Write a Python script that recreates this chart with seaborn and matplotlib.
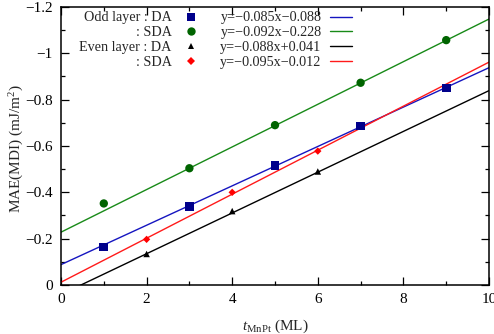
import numpy as np
import pandas as pd
import seaborn as sns
import matplotlib
matplotlib.use("Agg")
import matplotlib.pyplot as plt
from matplotlib.lines import Line2D
from matplotlib.ticker import MultipleLocator

# ---- data ----
odd_x = [1, 3, 5, 7, 9]
odd_da = [-0.164, -0.340, -0.516, -0.686, -0.850]
odd_sda = [-0.352, -0.504, -0.690, -0.873, -1.057]
even_x = [2, 4, 6]
even_da = [-0.134, -0.319, -0.490]
even_sda = [-0.197, -0.400, -0.578]

fit_slopes = [-0.085, -0.092, -0.088, -0.095]
fit_intercepts = [-0.088, -0.228, 0.041, -0.012]
fit_labels = ["y=\u22120.085x\u22120.088", "y=\u22120.092x\u22120.228",
              "y=\u22120.088x+0.041", "y=\u22120.095x\u22120.012"]
series_labels = ["Odd layer : DA", ": SDA", "Even layer : DA", ": SDA"]
fit_x = [0, 10]
x_ticks = [0, 2, 4, 6, 8, 10]
y_ticks = [0, -0.2, -0.4, -0.6, -0.8, -1.0, -1.2]
y_ticklabels = ["0", "\u22120.2", "\u22120.4", "\u22120.6", "\u22120.8", "\u22121", "\u22121.2"]

sns.set_theme(style="ticks")
plt.rcParams["font.family"] = ["Liberation Serif", "DejaVu Serif"]
plt.rcParams["mathtext.fontset"] = "custom"
plt.rcParams["mathtext.rm"] = "Liberation Serif"
plt.rcParams["mathtext.it"] = "Liberation Serif:italic"
plt.rcParams["axes.unicode_minus"] = True

FS = 11
LFS = 10.2

fig = plt.figure(figsize=(4.94, 3.34), dpi=100)
ax = fig.add_axes([61 / 494, 1 - 285 / 334, 428 / 494, 278 / 334])

marker_colors = ["#00008b", "#006400", "#000000", "#ff0000"]
line_colors = ["#1515c0", "#188a18", "#000000", "#ff1a1a"]

# fit lines
for k in range(4):
    df = pd.DataFrame({"x": fit_x,
                       "y": [fit_slopes[k] * v + fit_intercepts[k] for v in fit_x]})
    sns.lineplot(data=df, x="x", y="y", color=line_colors[k], lw=1.0, ax=ax,
                 legend=False, zorder=2)

# points
pts = [
    (odd_x, odd_da, "s", 40),
    (odd_x, odd_sda, "o", 36),
    (even_x, even_da, "^", 22),
    (even_x, even_sda, "D", 14),
]
for k, (xs, ys, m, s) in enumerate(pts):
    df = pd.DataFrame({"x": xs, "y": ys})
    sns.scatterplot(data=df, x="x", y="y", marker=m, s=s, color=marker_colors[k],
                    edgecolor="none", ax=ax, legend=False, zorder=3)

ax.set_xlim(0, 10)
ax.set_ylim(0, -1.2)
ax.xaxis.set_minor_locator(MultipleLocator(1))
ax.yaxis.set_minor_locator(MultipleLocator(0.1))
ax.set_yticks(y_ticks)
ax.set_yticklabels(y_ticklabels)
ax.set_xticks(x_ticks)
ax.set_xticklabels([str(v) for v in x_ticks])

ax.tick_params(which="both", direction="in", top=True, right=True,
               labelsize=FS, colors="black")
ax.tick_params(which="major", length=6, width=0.9)
ax.tick_params(which="minor", length=3, width=0.9)
ax.tick_params(axis="x", which="major", pad=6)
ax.tick_params(axis="y", which="major", pad=6)
for sp in ax.spines.values():
    sp.set_linewidth(1.1)
    sp.set_color("black")
    sp.set_visible(True)

ax.set_xlabel(r"$t_{\mathrm{MnPt}}$ (ML)", fontsize=FS, labelpad=8)
ax.set_ylabel(r"MAE(MDI) (mJ/m$^2$)", fontsize=FS, labelpad=-1)
ax.yaxis.label.set_y(0.49)

# legend: two columns, text before handle
handles = []
for k, (xs, ys, m, s) in enumerate(pts):
    handles.append(Line2D([], [], ls="none", marker=m, color=marker_colors[k],
                          markersize=np.sqrt(s), markeredgewidth=0))
for k in range(4):
    handles.append(Line2D([], [], color=line_colors[k], lw=1.0))
labels = series_labels + fit_labels
leg = ax.legend(handles, labels, ncol=2, loc="upper right",
                bbox_to_anchor=((352 - 61) / 428, (285 - 11.5) / 278),
                frameon=False, markerfirst=False, fontsize=LFS,
                handlelength=1.55, handletextpad=0.6, columnspacing=1.27,
                labelspacing=0.12, borderpad=0, borderaxespad=0)

fig.savefig("out.png", dpi=100)
